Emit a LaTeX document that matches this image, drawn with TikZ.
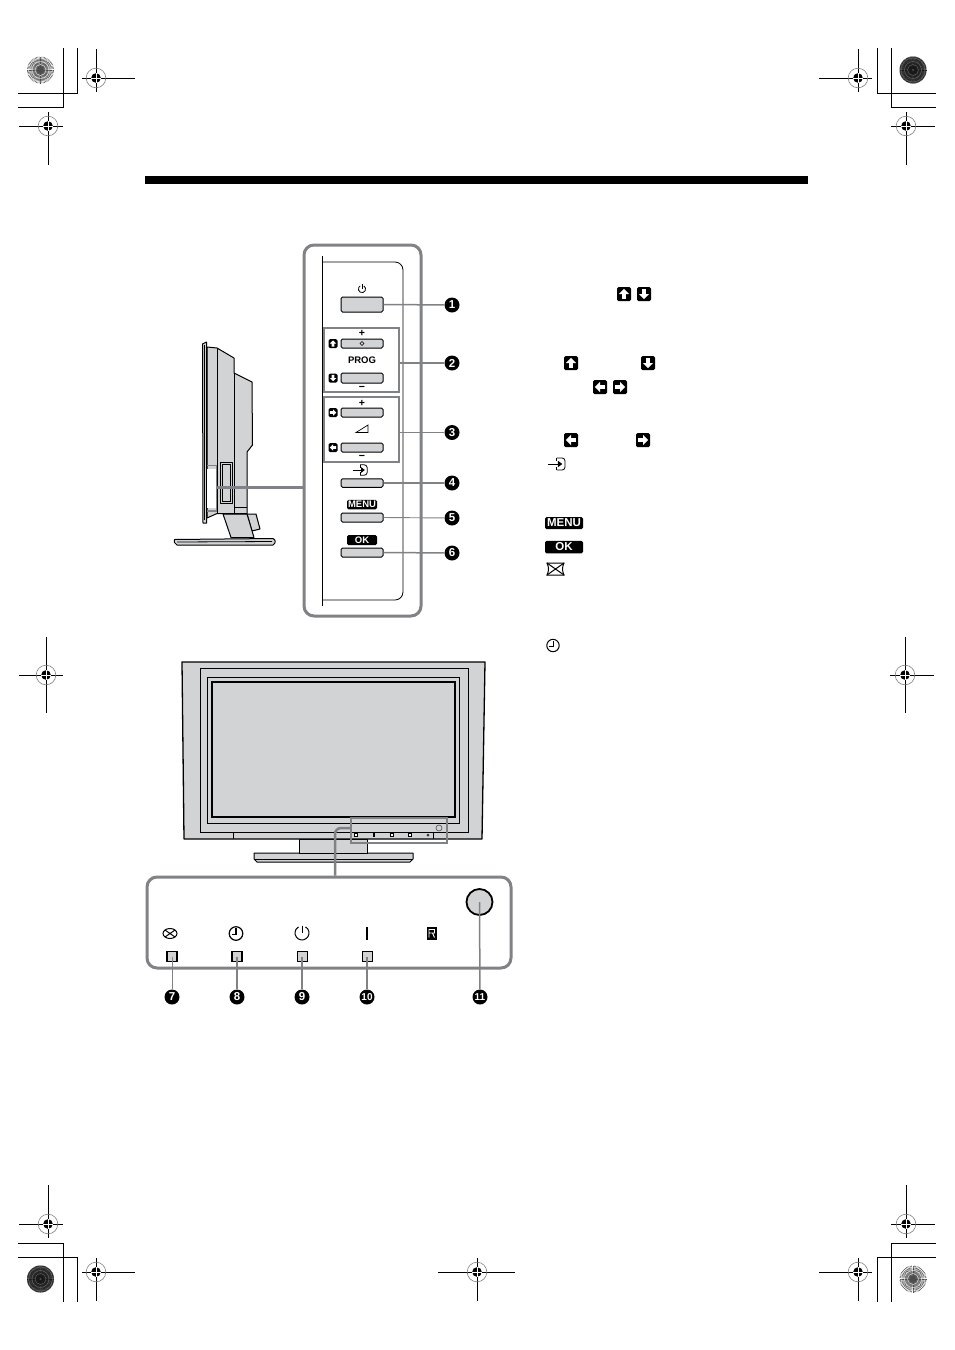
\documentclass[tikz,border=0pt]{standalone}
\usepackage{fontspec}
\setmainfont{Liberation Sans}
\definecolor{tvgray}{HTML}{D2D3D4}
\definecolor{leadgray}{HTML}{808285}
\tikzset{
  x=1pt,y=-1pt,
  crop/.style={black,line width=0.9pt},
  tvline/.style={black,line width=1pt,fill=tvgray,line join=round},
  thinl/.style={black,line width=0.8pt},
  bezel/.style={leadgray,line width=3pt,rounded corners=10pt},
  detail/.style={leadgray,line width=1.2pt},
  leader/.style={leadgray,line width=1.5pt},
  leaderthin/.style={leadgray,line width=0.9pt},
  btn/.style={draw=black,fill=tvgray,line width=1pt,rounded corners=1.5pt,inner sep=0pt,minimum width=42pt},
  num/.style={circle,fill=black,text=white,inner sep=0pt,minimum size=15pt,font=\bfseries\fontsize{11.5}{11.5}\selectfont},
  lab/.style={inner sep=0pt,font=\bfseries\fontsize{9}{9}\selectfont},
  sign/.style={inner sep=0pt,text height=7pt,text depth=0pt,font=\bfseries\fontsize{10.5}{10.5}\selectfont},
  tag/.style={fill=black,text=white,rounded corners=1.5pt,inner sep=0pt,font=\bfseries\fontsize{9.5}{9.5}\selectfont},
  led/.style={draw=black,fill=tvgray,inner sep=0pt,minimum size=10pt,line width=1pt},
  ledb/.style={led,line width=1.8pt},
  tiny/.style={draw=black,fill=white,inner sep=0pt,minimum size=3pt,line width=0.8pt},
}
% registration mark: x y, arm up, down, left, right
\newcommand{\regm}[6]{%
  \draw[crop] (#1,#2-#3) -- (#1,#2+#4);
  \draw[crop] (#1-#5,#2) -- (#1+#6,#2);
  \draw[gray,line width=0.6pt] (#1,#2) circle[radius=9.8];
  \fill[black] (#1,#2) circle[radius=4.8];
  \draw[white,line width=0.7pt] (#1-5,#2) -- (#1+5,#2) (#1,#2-5) -- (#1,#2+5);
}
% spoked disc: x y base-colour line-colour step
\newcommand{\spok}[5]{%
  \fill[#3] (#1,#2) circle[radius=13.5];
  \foreach \a in {0,#5,...,359}{\draw[#4,line width=0.5pt] (#1,#2) -- ++(\a:13.5);}
  \foreach \r in {5.5,8.5,12}{\draw[#3,line width=0.35pt] (#1,#2) circle[radius=\r];}
  \fill[black!70] (#1,#2) circle[radius=1.2];
}
% arrow badge: name x y angle size
\newcommand{\badge}[5]{%
  \node[fill=black,rounded corners=1.5pt,inner sep=0pt,minimum size=#5 pt] (#1) at (#2,#3) {};
  \fill[white,rotate around={#4:(#2,#3)}]
    (#2+0.36*#5,#3) -- (#2,#3-0.36*#5) -- (#2-0.36*#5,#3) -- (#2-0.14*#5,#3)
    -- (#2-0.14*#5,#3+0.34*#5) -- (#2+0.14*#5,#3+0.34*#5) -- (#2+0.14*#5,#3) -- cycle;
}
\newcommand{\clockic}[4]{% x y lw radius
  \draw[black,line width=#3] (#1,#2) circle[radius=#4];
  \draw[black,line width=#3] (#1,#2-0.75*#4) -- (#1,#2+0.15*#4) -- (#1-0.6*#4,#2+0.15*#4);
}
\newcommand{\inputic}[3]{% x y scale
  \begin{scope}[shift={(#1,#2)},scale=#3]
    \draw[black,line width=0.8pt,rounded corners=3pt] (-2,-5.5) -- (5.5,-5.5) -- (5.5,5.5) -- (-2,5.5);
    \draw[black,line width=0.9pt] (-2,-5.5) -- (-2,-2.5) (-2,5.5) -- (-2,2.5);
    \draw[black,line width=0.9pt] (-10,0) -- (0,0);
    \fill[black] (3,0) -- (-1,-3) -- (-1,3) -- cycle;
  \end{scope}
}
\begin{document}
\begin{tikzpicture}
\useasboundingbox (0,0) rectangle (954,1350);
\fill[white] (0,0) rectangle (954,1350);

% ---- printer's marks
\draw[crop] (63,48) -- (63,107) -- (18,107) (77,48) -- (77,93) -- (18,93);
\draw[crop] (891,48) -- (891,107) -- (936,107) (877,48) -- (877,93) -- (936,93);
\draw[crop] (63,1302) -- (63,1243) -- (18,1243) (77,1302) -- (77,1257) -- (18,1257);
\draw[crop] (891,1302) -- (891,1243) -- (936,1243) (877,1302) -- (877,1257) -- (936,1257);
\regm{96}{78}{29}{14}{14}{39}
\regm{48}{126}{14}{39}{29}{15}
\regm{858}{78}{29}{14}{39}{14}
\regm{906}{126}{14}{39}{15}{29}
\regm{46}{675}{38}{38}{27}{17}
\regm{905}{675}{38}{38}{15}{29}
\regm{48}{1224}{39}{14}{29}{15}
\regm{96}{1272}{14}{29}{14}{39}
\regm{858}{1272}{14}{29}{39}{14}
\regm{906}{1224}{39}{14}{15}{29}
\regm{477}{1272}{14}{29}{39}{38}
\spok{40.5}{70}{white}{black!70}{6}
\spok{913}{70}{black!55}{black!90}{4}
\spok{40.5}{1279}{black!55}{black!90}{4}
\spok{913}{1279}{white}{black!70}{6}

% ---- title bar
\fill[black] (145,176) rectangle (808,184);

% ---- TV side view
\draw[tvline] (174.5,539.5) -- (273,538.5) .. controls (276,540) and (276,543) .. (273,545) -- (177,545) .. controls (174,544) and (174,541) .. (174.5,539.5) -- cycle;
\draw[thinl] (177,542) -- (272,541.5);
\draw[tvline] (247,514) -- (256,514) -- (260,529) -- (252,531) -- cycle;
\draw[tvline] (223,514) -- (231,537.5) -- (254,537.5) -- (247,514) -- cycle;
\draw[tvline] (207,347) -- (217,348) -- (234,358) -- (234,373) -- (252,382) -- (252.5,445) -- (247,452) -- (247,513.5) -- (217,513.5) -- (207,518) -- cycle;
\draw[tvline,fill=tvgray] (202.5,344) -- (206.5,342) -- (206.5,523) -- (203,523) -- cycle;
\draw[thinl] (204,345) -- (204,520);
\draw[thinl] (217,348) -- (217,513);
\draw[thinl] (234,373) -- (234,513) (234,507) -- (247,507);
\draw[tvline] (220,462) rectangle (232,503);
\draw[thinl] (222,464) rectangle (230,501);
\fill[white] (207,469) rectangle (216,508);
\draw[leadgray,line width=1.2pt] (207,465.5) -- (216.5,465.5) -- (216.5,511) -- (207,511);

% ---- button panel
\draw[bezel] (304,245) rectangle (421,616);
\draw[thinl] (322,256) -- (322,606);
\draw[thinl,rounded corners=8pt] (322,262) -- (403,262) -- (403,600) -- (322,600);

\coordinate (sideTV) at (216,487);
\coordinate (panelL) at (304,487);
\draw[leadgray,line width=3pt] (sideTV) -- (panelL);

\node[draw=leadgray,line width=1.2pt,minimum width=75pt,minimum height=64pt,inner sep=0pt] (box2) at (361.5,360) {};
\node[draw=leadgray,line width=1.2pt,minimum width=75pt,minimum height=65pt,inner sep=0pt] (box3) at (361.5,429.5) {};

\node[btn,minimum height=15pt] (b1) at (362,304.5) {};
\node[btn,minimum height=9pt] (b2a) at (362,343.5) {};
\node[btn,minimum height=10pt] (b2b) at (362,378) {};
\node[btn,minimum height=9pt] (b3a) at (362,412.5) {};
\node[btn,minimum height=9pt] (b3b) at (362,447.5) {};
\node[btn,minimum height=8.5pt] (b4) at (362,483) {};
\node[btn,minimum height=9pt] (b5) at (362,517.5) {};
\node[btn,minimum height=9pt] (b6) at (362,552.5) {};

% power symbol on the button panel
\draw[black,line width=0.8pt] (363.8,285.9) arc[start angle=-60,delta angle=300,radius=3.6];
\draw[black,line width=0.8pt] (362,284) -- (362,289);
\draw[black,line width=0.5pt] (362,341.5) -- (364,343.5) -- (362,345.5) -- (360,343.5) -- cycle;

\node[sign] (plus2) at (362,333) {+};
\node[sign] (minus2) at (362,387) {−};
\node[sign] (plus3) at (362,403) {+};
\node[sign] (minus3) at (362,456) {−};
\node[lab,font=\bfseries\fontsize{9.5}{9.5}\selectfont] (prog) at (362,360) {PROG};
\badge{u1}{333}{343.5}{0}{9}
\badge{d1}{333}{378}{180}{9}
\badge{r1}{333}{412.5}{-90}{9}
\badge{l1}{333}{447.5}{90}{9}
% volume wedge
\draw[black,line width=0.7pt] (356,432.5) -- (368,432.5) -- (368,425) -- cycle;
\inputic{362}{470}{0.95}
\node[tag,minimum width=30pt,minimum height=9.5pt] (menu1) at (362,504.5) {MENU};
\node[tag,minimum width=30pt,minimum height=10pt] (ok1) at (362,540) {OK};

\node[num] (n1) at (452,305) {1};
\node[num] (n2) at (452,363) {2};
\node[num] (n3) at (452,432.5) {3};
\node[num] (n4) at (452,483) {4};
\node[num] (n5) at (452,518) {5};
\node[num] (n6) at (452,553) {6};
\draw[leader] (b1.east) -- (n1);
\draw[leader] (box2.east |- n2) -- (n2);
\draw[leaderthin] (box3.east |- n3) -- (n3);
\draw[leader] (b4.east) -- (n4);
\draw[leaderthin] (b5.east) -- (n5);
\draw[leader] (b6.east) -- (n6);

% ---- right-hand column symbols
\badge{u2}{624}{294}{0}{14}
\badge{d2}{644}{294}{180}{14}
\badge{u3}{571}{363}{0}{14}
\badge{d3}{648}{363}{180}{14}
\badge{l2}{600}{387}{90}{14}
\badge{r2}{620}{387}{-90}{14}
\badge{l3}{571}{440}{90}{14}
\badge{r3}{643}{440}{-90}{14}
\inputic{559}{464}{1.1}
\node[tag,font=\bfseries\fontsize{11.5}{11.5}\selectfont,minimum width=38pt,minimum height=12pt] (menu2) at (564,523) {MENU};
\node[tag,font=\bfseries\fontsize{11.5}{11.5}\selectfont,minimum width=38pt,minimum height=12.5pt] (ok2) at (564,547) {OK};
% envelope lamp symbol
\draw[black,line width=1pt] (547,563) -- (564,563) .. controls (562,567) and (562,571) .. (564,575) -- (547,575) .. controls (549,571) and (549,567) .. (547,563) -- cycle;
\draw[black,line width=1pt] (547,563) -- (564,575) (547,575) -- (564,563);
\clockic{553}{645.5}{1pt}{6.2}

% ---- TV front view
\draw[tvline] (254,853) -- (413,853) -- (413,859) -- (410,862) -- (257,862) -- (254,859) -- cycle;
\draw[thinl] (255,859) -- (412,859);
\draw[tvline] (299,839) rectangle (367,853);
\draw[tvline,line width=1.3pt] (182,662) -- (485,662) -- (482,839) -- (184,839) -- cycle;
\draw[thinl] (200,668) rectangle (468,832);
\draw[thinl] (207,677) rectangle (459,823);
\draw[black,line width=1.8pt] (212,682) rectangle (455,817);
\draw[thinl] (233,832) -- (233,839) (433,832) -- (433,839);
\node[tiny] (s1) at (356,835) {};
\node[fill=black,inner sep=0pt,minimum width=2pt,minimum height=4pt] (s2) at (374,835) {};
\node[tiny] (s3) at (392,835) {};
\node[tiny] (s4) at (410,835) {};
\node[fill=black!80,circle,inner sep=0pt,minimum size=3pt] (s5) at (428,835) {};
\draw[black!70,line width=0.6pt] (439,828) circle[radius=3];
\node[draw=leadgray,line width=1.2pt,inner sep=0pt,minimum width=96pt,minimum height=25pt] (zoombox) at (399,830.5) {};

% ---- indicator panel
\node[draw=leadgray,line width=3pt,rounded corners=10pt,inner sep=0pt,minimum width=364pt,minimum height=91pt] (ledpanel) at (329,922.5) {};
\draw[leadgray,line width=2.5pt,rounded corners=6pt] (zoombox.west |- 0,828) -- (335,828) -- (ledpanel.north -| 335,0);

% envelope lamp symbol, oval form
\draw[black,line width=1pt] (170,933.5) ellipse[x radius=7,y radius=5];
\draw[black,line width=1pt] (165,930) -- (175,937) (165,937) -- (175,930);
\clockic{236}{933.5}{1.2pt}{6.8}
% power symbol
\draw[black,line width=1pt] (305.5,926.9) arc[start angle=-60,delta angle=300,radius=7];
\draw[black,line width=1pt] (302,925.5) -- (302,933);
\fill[black] (365.8,926.5) rectangle (368.4,940);
\fill[black] (426.5,927) rectangle (437,939.5);
\draw[white,line width=0.9pt] (429,937.5) -- (429,929.5) -- (434.5,929.5) -- (434.5,933) -- (429,933) (432.5,933) -- (434.5,937.5);

\node[ledb] (l7) at (172,956.5) {};
\node[ledb] (l8) at (237,956.5) {};
\node[led] (l9) at (302,956.5) {};
\node[led] (l10) at (367,956.5) {};
\node[circle,draw=black,fill=tvgray,line width=1.8pt,minimum size=26pt,inner sep=0pt] (sensor) at (479.5,902) {};

\node[num] (n7) at (172,997) {7};
\node[num] (n8) at (237,997) {8};
\node[num] (n9) at (302,997) {9};
\node[num,font=\bfseries\fontsize{10}{10}\selectfont] (n10) at (367,997) {10};
\node[num,font=\bfseries\fontsize{10}{10}\selectfont] (n11) at (480,997) {11};
\draw[leaderthin] (l7.center) -- (n7);
\draw[leader] (l8.center) -- (n8);
\draw[leader] (l9.center) -- (n9);
\draw[leader] (l10.center) -- (n10);
\draw[leader] (sensor.center) -- (n11);
\end{tikzpicture}
\end{document}
